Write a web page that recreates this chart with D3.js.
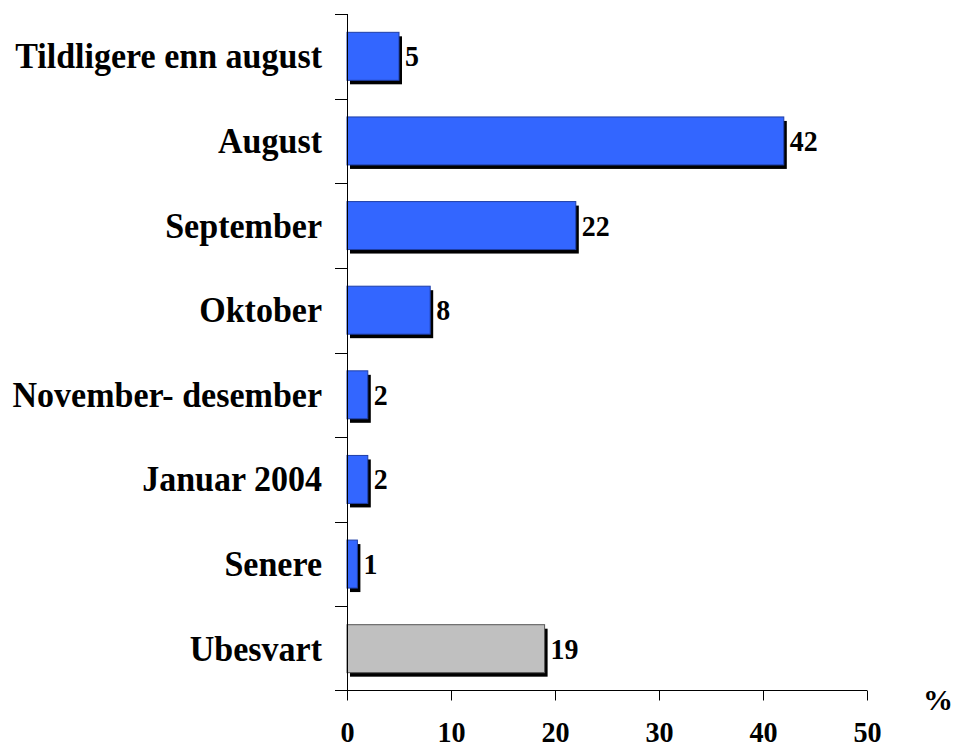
<!DOCTYPE html>
<html><head><meta charset="utf-8">
<script src="https://cdn.jsdelivr.net/npm/d3@7"></script>
<style>body{margin:0;background:#fff}svg{display:block}</style>
</head><body>
<script>
const categories = ["Tildligere enn august","August","September","Oktober","November- desember","Januar 2004","Senere","Ubesvart"];
const values = [5,42,22,8,2,2,1,19];
const barColors = ["#3366FF","#3366FF","#3366FF","#3366FF","#3366FF","#3366FF","#3366FF","#C0C0C0"];
const xTicks = [0,10,20,30,40,50];
const unitLabel = "%";

const W=956,H=748;
const svg=d3.select("body").append("svg").attr("width",W).attr("height",H);
const font="'Liberation Serif','Times New Roman',serif";
const x=d3.scaleLinear().domain([0,50]).range([347,867]);
const y=d3.scaleBand().domain(categories).range([14,691]).paddingInner(0.433).paddingOuter(0.2165);
const step=y.step();

const g=svg.append("g");
categories.forEach((c,i)=>{
  const v=values[i];
  g.append("rect").attr("x",x(0)+3).attr("y",y(c)+4).attr("width",x(v)-x(0)).attr("height",y.bandwidth()).attr("fill","#000");
  g.append("rect").attr("x",x(0)).attr("y",y(c)).attr("width",x(v)-x(0)).attr("height",y.bandwidth())
    .attr("fill",barColors[i]).attr("stroke",i===7?"#555":"#1f3fa8").attr("stroke-width",1);
  g.append("text").attr("transform",`translate(${x(v)+6},${y(c)+y.bandwidth()/2+10}) scale(0.93,1)`)
    .attr("font-family",font).attr("font-weight","bold").attr("font-size",30).attr("fill","#000").text(v);
  svg.append("text").attr("transform",`translate(322,${y(c)+y.bandwidth()/2+12}) scale(0.945,1)`)
    .attr("text-anchor","end").attr("font-family",font).attr("font-weight","bold").attr("font-size",36).attr("fill","#000").text(c);
});

svg.append("line").attr("x1",347.5).attr("x2",347.5).attr("y1",14).attr("y2",691).attr("stroke","#000");
for(let i=0;i<categories.length;i++){
  const yy=Math.round(14+i*step)+0.5;
  svg.append("line").attr("x1",335).attr("x2",347).attr("y1",yy).attr("y2",yy).attr("stroke","#000");
}
const xa=svg.append("g").attr("transform","translate(0,690.5)")
  .call(d3.axisBottom(x).tickValues(xTicks).tickSize(10).tickFormat(d3.format("d")));
xa.select(".domain").attr("d",`M335,0H${x(50)}`).attr("stroke","#000");
xa.selectAll(".tick line").attr("stroke","#000");
xa.selectAll(".tick text").attr("font-family",font).attr("font-weight","bold").attr("font-size",30).attr("fill","#000")
  .attr("y",52).attr("dy","0").attr("transform","scale(0.94,1)");
svg.append("text").attr("x",938).attr("y",710).attr("text-anchor","middle").attr("font-family",font)
  .attr("font-weight","bold").attr("font-size",30).attr("fill","#000").text(unitLabel);
</script>
</body></html>
